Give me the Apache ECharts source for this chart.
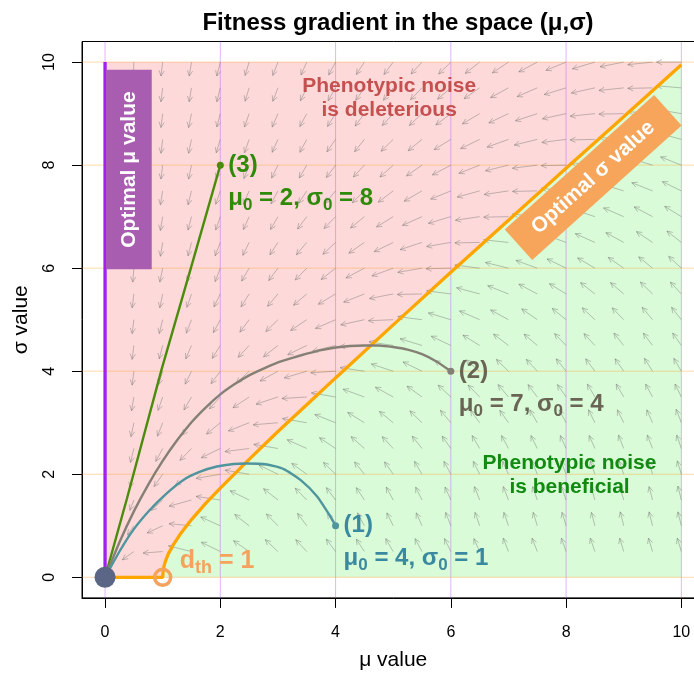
<!DOCTYPE html>
<html>
<head>
<meta charset="utf-8">
<script src="https://cdn.jsdelivr.net/npm/echarts@6/dist/echarts.min.js"></script>
<style>
  html, body { margin: 0; padding: 0; background: #fff; overflow: hidden; width: 694px; height: 673px; }
  #chart { width: 712px; height: 673px; }
</style>
</head>
<body>
<div id="chart"></div>
<script>
// ---------- data ----------
const xTicks = [0, 2, 4, 6, 8, 10];
const yTicks = [0, 2, 4, 6, 8, 10];

// optimal sigma for a given mu (threshold d_th = 1)
const optMu    = [0, 1, 1.01, 1.03, 1.06, 1.1, 1.2, 1.3, 1.5, 1.75, 2, 2.5, 3, 3.5, 4, 5, 6, 7, 8, 9, 10];
const optSigma = [0, 0, 0.14, 0.25, 0.35, 0.46, 0.66, 0.83, 1.12, 1.44, 1.73, 2.29, 2.83, 3.35, 3.87, 4.90, 5.92, 6.93, 7.94, 8.94, 9.95];

// trajectories (1), (2), (3)
const traj1Mu    = [4.0, 3.91, 3.68, 3.39, 3.10, 2.81, 2.46, 2.23, 1.94, 1.65, 1.36, 1.07, 0.78, 0.49, 0.26, 0.06, 0];
const traj1Sigma = [1.0, 1.18, 1.57, 1.89, 2.10, 2.19, 2.21, 2.20, 2.15, 2.05, 1.89, 1.63, 1.31, 0.92, 0.52, 0.12, 0];
const traj2Mu    = [6.0, 5.75, 5.5, 5.25, 5.0, 4.75, 4.5, 4.25, 4.0, 3.75, 3.5, 3.25, 3.0, 2.75, 2.5, 2.25, 2.0, 1.75, 1.5, 1.25, 1.0, 0.75, 0.5, 0.25, 0];
const traj2Sigma = [4.0, 4.19, 4.33, 4.42, 4.47, 4.50, 4.50, 4.49, 4.46, 4.41, 4.34, 4.26, 4.17, 4.05, 3.92, 3.75, 3.55, 3.30, 3.01, 2.66, 2.26, 1.80, 1.28, 0.68, 0];
const traj3Mu    = [2, 1.53, 0.98, 0.38, 0];
const traj3Sigma = [8, 6.16, 4.03, 1.53, 0];

// starting points and their labels
const startMu    = [4, 6, 2];
const startSigma = [1, 4, 8];
const startTag   = ['(1)', '(2)', '(3)'];
const labelMu0   = ['4', '7', '2'];
const labelSig0  = ['1', '4', '8'];

// gradient field: grid nodes and displacement (d mu, d sigma) per node
const fieldMu    = [0.5, 1, 1.5, 2, 2.5, 3, 3.5, 4, 4.5, 5, 5.5, 6, 6.5, 7, 7.5, 8, 8.5, 9, 9.5, 10];
const fieldSigma = [0.5, 1, 1.5, 2, 2.5, 3, 3.5, 4, 4.5, 5, 5.5, 6, 6.5, 7, 7.5, 8, 8.5, 9, 9.5, 10];
const fieldU = [
  [-0.20,-0.34,-0.40,-0.33,-0.27,-0.22,-0.19,-0.16,-0.14,-0.13,-0.12,-0.11,-0.10,-0.09,-0.09,-0.08,-0.08,-0.07,-0.07,-0.07],
  [-0.11,-0.27,-0.39,-0.34,-0.25,-0.20,-0.16,-0.14,-0.12,-0.11,-0.10,-0.09,-0.08,-0.08,-0.07,-0.07,-0.06,-0.06,-0.06,-0.06],
  [-0.07,-0.20,-0.39,-0.42,-0.33,-0.25,-0.20,-0.16,-0.14,-0.12,-0.11,-0.10,-0.09,-0.09,-0.08,-0.08,-0.07,-0.07,-0.06,-0.06],
  [-0.07,-0.15,-0.28,-0.42,-0.42,-0.33,-0.26,-0.21,-0.17,-0.15,-0.13,-0.12,-0.11,-0.10,-0.09,-0.09,-0.08,-0.08,-0.07,-0.07],
  [-0.06,-0.12,-0.20,-0.33,-0.42,-0.42,-0.34,-0.28,-0.23,-0.19,-0.17,-0.15,-0.13,-0.12,-0.11,-0.10,-0.10,-0.09,-0.09,-0.08],
  [-0.05,-0.09,-0.16,-0.24,-0.36,-0.43,-0.42,-0.36,-0.29,-0.24,-0.21,-0.18,-0.16,-0.15,-0.13,-0.12,-0.11,-0.11,-0.10,-0.09],
  [-0.04,-0.08,-0.13,-0.19,-0.28,-0.38,-0.43,-0.42,-0.37,-0.31,-0.26,-0.22,-0.20,-0.18,-0.16,-0.15,-0.13,-0.13,-0.12,-0.11],
  [-0.03,-0.07,-0.11,-0.16,-0.22,-0.31,-0.39,-0.43,-0.42,-0.38,-0.33,-0.28,-0.24,-0.21,-0.19,-0.17,-0.16,-0.15,-0.14,-0.13],
  [-0.03,-0.06,-0.10,-0.14,-0.19,-0.25,-0.33,-0.40,-0.43,-0.42,-0.38,-0.34,-0.29,-0.26,-0.23,-0.20,-0.19,-0.17,-0.16,-0.15],
  [-0.03,-0.06,-0.09,-0.12,-0.16,-0.21,-0.28,-0.35,-0.41,-0.43,-0.42,-0.39,-0.35,-0.31,-0.27,-0.24,-0.22,-0.20,-0.18,-0.17],
  [-0.03,-0.05,-0.08,-0.11,-0.14,-0.18,-0.23,-0.30,-0.36,-0.41,-0.43,-0.42,-0.40,-0.36,-0.32,-0.29,-0.25,-0.23,-0.21,-0.19],
  [-0.02,-0.05,-0.07,-0.09,-0.13,-0.16,-0.20,-0.25,-0.32,-0.37,-0.42,-0.43,-0.43,-0.40,-0.37,-0.33,-0.30,-0.27,-0.24,-0.22],
  [-0.02,-0.04,-0.06,-0.09,-0.11,-0.14,-0.18,-0.22,-0.27,-0.33,-0.38,-0.42,-0.43,-0.43,-0.40,-0.37,-0.34,-0.31,-0.28,-0.25],
  [-0.02,-0.04,-0.06,-0.08,-0.10,-0.13,-0.16,-0.20,-0.24,-0.29,-0.34,-0.39,-0.42,-0.43,-0.43,-0.41,-0.38,-0.35,-0.32,-0.29],
  [-0.02,-0.04,-0.06,-0.08,-0.10,-0.12,-0.14,-0.18,-0.21,-0.26,-0.31,-0.35,-0.39,-0.42,-0.43,-0.43,-0.41,-0.38,-0.36,-0.33],
  [-0.02,-0.03,-0.05,-0.07,-0.09,-0.11,-0.13,-0.16,-0.19,-0.23,-0.27,-0.32,-0.36,-0.40,-0.43,-0.43,-0.43,-0.41,-0.39,-0.36],
  [-0.02,-0.03,-0.05,-0.07,-0.08,-0.10,-0.12,-0.15,-0.17,-0.21,-0.24,-0.29,-0.33,-0.37,-0.40,-0.42,-0.43,-0.43,-0.41,-0.39],
  [-0.02,-0.03,-0.05,-0.06,-0.08,-0.10,-0.12,-0.14,-0.16,-0.19,-0.22,-0.26,-0.30,-0.34,-0.38,-0.41,-0.43,-0.43,-0.43,-0.42],
  [-0.01,-0.03,-0.04,-0.06,-0.07,-0.09,-0.11,-0.13,-0.15,-0.17,-0.20,-0.23,-0.27,-0.31,-0.35,-0.38,-0.41,-0.43,-0.43,-0.43],
  [-0.01,-0.03,-0.04,-0.06,-0.07,-0.09,-0.10,-0.12,-0.14,-0.16,-0.19,-0.21,-0.25,-0.28,-0.32,-0.35,-0.39,-0.41,-0.43,-0.43]
];
const fieldV = [
  [-0.16,-0.03,0.11,0.18,0.21,0.23,0.23,0.24,0.24,0.25,0.25,0.25,0.25,0.26,0.26,0.26,0.26,0.26,0.26,0.26],
  [-0.18,-0.14,0.04,0.17,0.22,0.23,0.24,0.24,0.25,0.25,0.25,0.26,0.26,0.26,0.26,0.26,0.26,0.27,0.27,0.27],
  [-0.20,-0.20,-0.12,0.07,0.18,0.22,0.23,0.24,0.24,0.25,0.25,0.25,0.26,0.26,0.26,0.26,0.26,0.26,0.26,0.27],
  [-0.26,-0.24,-0.21,-0.08,0.08,0.18,0.21,0.23,0.24,0.24,0.25,0.25,0.25,0.25,0.26,0.26,0.26,0.26,0.26,0.26],
  [-0.27,-0.25,-0.23,-0.18,-0.06,0.08,0.17,0.21,0.23,0.23,0.24,0.24,0.25,0.25,0.25,0.25,0.25,0.26,0.26,0.26],
  [-0.27,-0.26,-0.24,-0.22,-0.16,-0.04,0.08,0.16,0.20,0.22,0.23,0.24,0.24,0.24,0.25,0.25,0.25,0.25,0.25,0.26],
  [-0.27,-0.26,-0.25,-0.23,-0.21,-0.14,-0.03,0.08,0.15,0.19,0.21,0.23,0.23,0.24,0.24,0.24,0.25,0.25,0.25,0.25],
  [-0.27,-0.26,-0.25,-0.24,-0.23,-0.19,-0.13,-0.03,0.07,0.14,0.18,0.21,0.22,0.23,0.23,0.24,0.24,0.24,0.25,0.25],
  [-0.27,-0.26,-0.26,-0.25,-0.23,-0.22,-0.18,-0.11,-0.02,0.07,0.13,0.18,0.20,0.22,0.22,0.23,0.23,0.24,0.24,0.24],
  [-0.27,-0.27,-0.26,-0.25,-0.24,-0.23,-0.21,-0.17,-0.10,-0.02,0.06,0.13,0.17,0.19,0.21,0.22,0.23,0.23,0.24,0.24],
  [-0.27,-0.27,-0.26,-0.25,-0.25,-0.24,-0.22,-0.20,-0.16,-0.09,-0.01,0.06,0.12,0.16,0.19,0.20,0.22,0.22,0.23,0.23],
  [-0.27,-0.27,-0.26,-0.26,-0.25,-0.24,-0.23,-0.22,-0.19,-0.15,-0.08,-0.01,0.06,0.11,0.15,0.18,0.20,0.21,0.22,0.23],
  [-0.27,-0.27,-0.26,-0.26,-0.25,-0.24,-0.24,-0.23,-0.21,-0.18,-0.14,-0.08,-0.01,0.05,0.11,0.15,0.17,0.19,0.21,0.22],
  [-0.27,-0.27,-0.26,-0.26,-0.25,-0.25,-0.24,-0.23,-0.22,-0.20,-0.17,-0.13,-0.07,-0.01,0.05,0.10,0.14,0.17,0.19,0.20],
  [-0.27,-0.27,-0.27,-0.26,-0.26,-0.25,-0.24,-0.24,-0.23,-0.22,-0.20,-0.16,-0.12,-0.07,-0.01,0.05,0.09,0.13,0.16,0.18],
  [-0.27,-0.27,-0.27,-0.26,-0.26,-0.25,-0.25,-0.24,-0.23,-0.23,-0.21,-0.19,-0.16,-0.11,-0.06,-0.01,0.05,0.09,0.13,0.16],
  [-0.27,-0.27,-0.27,-0.26,-0.26,-0.25,-0.25,-0.24,-0.24,-0.23,-0.22,-0.20,-0.18,-0.15,-0.11,-0.06,-0.01,0.04,0.09,0.12],
  [-0.27,-0.27,-0.27,-0.26,-0.26,-0.26,-0.25,-0.25,-0.24,-0.23,-0.23,-0.22,-0.20,-0.18,-0.14,-0.10,-0.05,-0.01,0.04,0.08],
  [-0.27,-0.27,-0.27,-0.27,-0.26,-0.26,-0.25,-0.25,-0.24,-0.24,-0.23,-0.22,-0.21,-0.19,-0.17,-0.13,-0.10,-0.05,-0.01,0.04],
  [-0.27,-0.27,-0.27,-0.27,-0.26,-0.26,-0.25,-0.25,-0.24,-0.24,-0.23,-0.23,-0.22,-0.21,-0.19,-0.16,-0.13,-0.09,-0.05,0.00]
];

// annotation anchors (data coordinates)
const muBandX = [0.02, 0.81];
const muBandY = [5.98, 9.85];
const sigmaBandCenter = [8.47, 7.76];
const harmfulCenter = [4.93, 9.29];
const helpfulCenter = [8.06, 1.99];

// ---------- drawing ----------
const FONT = "'Liberation Sans', Arial, Helvetica, sans-serif";
const C = {
  pink: '#FDD9D9', green: '#D9FBD7',
  vgrid: 'rgba(190,90,255,0.45)', hgrid: 'rgba(255,160,40,0.38)',
  arrow: 'rgba(110,110,110,0.42)',
  opt: '#FFA500', purple: '#A020F0', purpleBox: '#A95DB1', orangeBox: '#F6A55A',
  t1: '#4E959E', t1txt: '#3A89A0',
  t2: '#858075', t2txt: '#6A6455',
  t3: '#4C8C0C', t3txt: '#2F8A0A',
  origin: '#5B6687', dth: '#F5A25D',
  harmful: '#C6504F', helpful: '#128A12'
};
const zip = (a, b) => a.map((v, i) => [v, b[i]]);

const arrowData = [];
fieldSigma.forEach((s, j) => fieldMu.forEach((m, i) => arrowData.push([m, s, fieldU[j][i], fieldV[j][i]])));

const chart = echarts.init(document.getElementById('chart'), null, { renderer: 'canvas', width: 712, height: 673 });

const axisCommon = {
  type: 'value', min: -0.4, max: 10.4,
  nameLocation: 'middle',
  nameTextStyle: { fontFamily: FONT, fontSize: 21, color: '#000' },
  axisLine: { show: true, onZero: false, lineStyle: { color: '#000', width: 1 } },
  axisTick: { show: true, inside: false, length: 10, lineStyle: { color: '#000', width: 1 } },
  splitLine: { show: false }
};

const option = {
  animation: false,
  backgroundColor: '#fff',
  title: {
    text: 'Fitness gradient in the space (μ,σ)',
    left: 393, top: 6, textAlign: 'center',
    textStyle: { fontFamily: FONT, fontSize: 24, fontWeight: 'bold', color: '#000' }
  },
  grid: {
    left: 82, top: 41.5, width: 622.4, height: 556.4,
    outerBoundsMode: 'none', containLabel: false,
    show: true, borderColor: '#000', borderWidth: 1, backgroundColor: '#fff'
  },
  xAxis: Object.assign({}, axisCommon, {
    name: 'μ value', nameGap: 52,
    axisTick: Object.assign({}, axisCommon.axisTick, { customValues: xTicks }),
    axisLabel: { customValues: xTicks, margin: 27, fontFamily: FONT, fontSize: 16, color: '#000' }
  }),
  yAxis: Object.assign({}, axisCommon, {
    name: 'σ value', nameGap: 50,
    axisTick: Object.assign({}, axisCommon.axisTick, { customValues: yTicks }),
    axisLabel: { customValues: yTicks, rotate: 90, margin: 24, fontFamily: FONT, fontSize: 16, color: '#000' }
  }),
  series: [
    { // shaded regions on both sides of the optimal sigma curve
      type: 'custom', coordinateSystem: 'cartesian2d', data: [[0, 0]], silent: true, z: 1,
      renderItem: (params, api) => {
        const curve = zip(optMu, optSigma);
        const pinkPts = curve.concat([[10, 10], [0, 10]]).map(p => api.coord(p));
        const greenPts = curve.slice(1).concat([[10, 0]]).map(p => api.coord(p));
        return { type: 'group', children: [
          { type: 'polygon', shape: { points: pinkPts }, style: { fill: C.pink } },
          { type: 'polygon', shape: { points: greenPts }, style: { fill: C.green } }
        ]};
      }
    },
    { // grid lines
      type: 'custom', coordinateSystem: 'cartesian2d', data: [[0, 0]], silent: true, z: 1,
      renderItem: (params, api) => {
        const ch = [];
        xTicks.forEach(v => {
          const a = api.coord([v, -0.4]), b = api.coord([v, 10.4]);
          ch.push({ type: 'line', shape: { x1: a[0], y1: a[1], x2: b[0], y2: b[1] }, style: { stroke: C.vgrid, lineWidth: 1 } });
        });
        yTicks.forEach(v => {
          const a = api.coord([-0.4, v]), b = api.coord([10.4, v]);
          ch.push({ type: 'line', shape: { x1: a[0], y1: a[1], x2: b[0], y2: b[1] }, style: { stroke: C.hgrid, lineWidth: 1 } });
        });
        return { type: 'group', children: ch };
      }
    },
    { // gradient arrows
      type: 'custom', coordinateSystem: 'cartesian2d', data: arrowData, silent: true, z: 2,
      encode: { x: 0, y: 1 },
      renderItem: (params, api) => {
        const m = api.value(0), s = api.value(1), u = api.value(2), v = api.value(3);
        const p0 = api.coord([m, s]);
        const p1 = api.coord([m + u, s + v]);
        const dx = p1[0] - p0[0], dy = p1[1] - p0[1];
        const len = Math.hypot(dx, dy) || 1;
        const bx = -dx / len, by = -dy / len;
        const hl = 6, a = Math.PI / 7, ca = Math.cos(a), sa = Math.sin(a);
        const w1 = [p1[0] + hl * (bx * ca - by * sa), p1[1] + hl * (bx * sa + by * ca)];
        const w2 = [p1[0] + hl * (bx * ca + by * sa), p1[1] + hl * (-bx * sa + by * ca)];
        const st = { stroke: C.arrow, lineWidth: 1, fill: null };
        return { type: 'group', children: [
          { type: 'line', shape: { x1: p0[0], y1: p0[1], x2: p1[0], y2: p1[1] }, style: st },
          { type: 'polyline', shape: { points: [w1, p1, w2] }, style: st }
        ]};
      }
    },
    { type: 'line', data: zip(optMu, optSigma), showSymbol: false, silent: true, z: 3,
      lineStyle: { color: C.opt, width: 3.3 } },
    { type: 'line', data: [[0, 0], [0, 10]], showSymbol: false, silent: true, z: 3,
      lineStyle: { color: C.purple, width: 3.3 } },
    { type: 'line', data: zip(traj3Mu, traj3Sigma), showSymbol: false, silent: true, z: 4,
      lineStyle: { color: C.t3, width: 2.4 } },
    { type: 'line', data: zip(traj2Mu, traj2Sigma), showSymbol: false, smooth: 0.15, silent: true, z: 4,
      lineStyle: { color: C.t2, width: 2.4 } },
    { type: 'line', data: zip(traj1Mu, traj1Sigma), showSymbol: false, smooth: 0.2, silent: true, z: 4,
      lineStyle: { color: C.t1, width: 2.4 } },
    { type: 'scatter', data: zip(startMu, startSigma), symbolSize: 7, silent: true, z: 5,
      itemStyle: { color: (p) => [C.t1, C.t2, C.t3][p.dataIndex], opacity: 1 } },
    { type: 'scatter', data: [[0, 0]], symbolSize: 21, silent: true, z: 6,
      itemStyle: { color: C.origin, opacity: 1 } },
    { type: 'scatter', data: [[1, 0]], symbol: 'circle', symbolSize: 16, silent: true, z: 6,
      itemStyle: { color: 'rgba(0,0,0,0)', borderColor: C.dth, borderWidth: 3.5, opacity: 1 } }
  ]
};
chart.setOption(option);

// ---------- annotations ----------
const px = (p) => chart.convertToPixel({ gridIndex: 0 }, p);
const g = [];
const txt = (x, y, text, extra, rotation) => g.push({
  type: 'text', x: x, y: y, z: 100, silent: true, rotation: rotation || 0,
  style: Object.assign({ text: text, fontFamily: FONT, fontWeight: 'bold', align: 'center', verticalAlign: 'middle' }, extra)
});
const subRich = (color, big, small, pad) => ({
  m: { fontFamily: FONT, fontWeight: 'bold', fontSize: big, fill: color },
  s: { fontFamily: FONT, fontWeight: 'bold', fontSize: small, fill: color, padding: [pad, 0, 0, 0] }
});

// optimal mu box
const mb0 = px([muBandX[0], muBandY[1]]), mb1 = px([muBandX[1], muBandY[0]]);
g.push({ type: 'rect', z: 90, silent: true,
  shape: { x: mb0[0], y: mb0[1], width: mb1[0] - mb0[0], height: mb1[1] - mb0[1] },
  style: { fill: C.purpleBox } });
txt((mb0[0] + mb1[0]) / 2, (mb0[1] + mb1[1]) / 2, 'Optimal μ value',
  { fill: '#fff', fontSize: 21 }, Math.PI / 2);

// optimal sigma box
const sc = px(sigmaBandCenter);
const rot = 42 * Math.PI / 180;
g.push({ type: 'rect', z: 90, silent: true, x: sc[0], y: sc[1], rotation: rot,
  shape: { x: -100.5, y: -20.5, width: 201, height: 41 }, style: { fill: C.orangeBox } });
txt(sc[0], sc[1], 'Optimal σ value', { fill: '#fff', fontSize: 21 }, rot);

// region captions
const hc = px(harmfulCenter);
txt(hc[0], hc[1], 'Phenotypic noise\nis deleterious', { fill: C.harmful, fontSize: 21, lineHeight: 24 });
const bc = px(helpfulCenter);
txt(bc[0], bc[1], 'Phenotypic noise\nis beneficial', { fill: C.helpful, fontSize: 21, lineHeight: 24 });

// trajectory labels
const tcol = [C.t1txt, C.t2txt, C.t3txt];
startMu.forEach((m, i) => {
  const p = px([m, startSigma[i]]);
  txt(p[0] + 8, p[1], startTag[i], { fill: tcol[i], fontSize: 24, align: 'left' });
  txt(p[0] + 8, p[1] + 33,
    '{m|μ}{s|0}{m| = ' + labelMu0[i] + ', σ}{s|0}{m| = ' + labelSig0[i] + '}',
    { fill: tcol[i], fontSize: 24, align: 'left', rich: subRich(tcol[i], 24, 17, 14) });
});

// threshold label
const dp = px([1, 0]);
txt(dp[0] + 17, dp[1] - 16, '{m|d}{s|th}{m| = 1}',
  { fill: C.dth, fontSize: 25, align: 'left', rich: subRich(C.dth, 25, 18, 13) });

chart.setOption({ graphic: { elements: g } });
</script>
</body>
</html>
